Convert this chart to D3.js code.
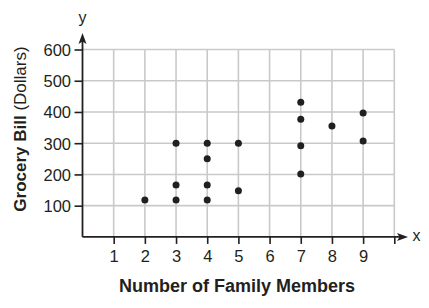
<!DOCTYPE html>
<html>
<head>
<meta charset="utf-8">
<script src="https://cdn.jsdelivr.net/npm/d3@7"></script>
<style>
  body { margin: 0; background: #fff; }
  text { font-family: "Liberation Sans", Arial, sans-serif; fill: #231f20; }
</style>
</head>
<body>
<div id="container"></div>
<script>
let members = [2, 3, 3, 3, 4, 4, 4, 4, 5, 5, 7, 7, 7, 7, 8, 9, 9];
let bills = [118, 300, 166, 118, 300, 250, 166, 118, 300, 148, 431, 377, 292, 201, 355, 397, 307];
let xTicks = [1, 2, 3, 4, 5, 6, 7, 8, 9];
let yTicks = [100, 200, 300, 400, 500, 600];

let width = 429;
let height = 308;
let ink = '#231f20';
let gridColor = '#c9c9c9';

let svg = d3.select('#container').append('svg')
    .attr('width', width).attr('height', height);

let xScale = d3.scaleLinear().domain([0, 10]).range([82.5, 394.3]);
let yScale = d3.scaleLinear().domain([0, 600]).range([236.9, 49.5]);

// grid
let grid = svg.append('g').attr('stroke', gridColor).attr('stroke-width', 1.6);
grid.selectAll('.vline').data(d3.range(1, 11)).enter()
    .append('line').attr('class', 'vline')
    .attr('x1', d => xScale(d)).attr('x2', d => xScale(d))
    .attr('y1', yScale(0)).attr('y2', yScale(600));
grid.selectAll('.hline').data(yTicks).enter()
    .append('line').attr('class', 'hline')
    .attr('x1', xScale(0)).attr('x2', xScale(10))
    .attr('y1', d => yScale(d)).attr('y2', d => yScale(d));

// x axis
let xAxis = d3.axisBottom(xScale).tickValues(d3.range(1, 11)).tickSize(7).tickSizeOuter(0)
    .tickFormat(d => d < 10 ? d : '');
let gx = svg.append('g').attr('transform', 'translate(0,' + yScale(0) + ')').call(xAxis);
gx.select('.domain').remove();
gx.selectAll('.tick line').attr('stroke', ink).attr('stroke-width', 1.6);
gx.selectAll('.tick text').attr('y', 25).attr('dy', 0)
    .style('font-size', '16.5px').style('fill', ink);

// y axis
let yAxis = d3.axisLeft(yScale).tickValues(yTicks).tickSize(8).tickSizeOuter(0);
let gy = svg.append('g').attr('transform', 'translate(' + xScale(0) + ',0)').call(yAxis);
gy.select('.domain').remove();
gy.selectAll('.tick line').attr('stroke', ink).attr('stroke-width', 1.6);
gy.selectAll('.tick text').attr('x', -11.5).attr('dy', '0.36em')
    .style('font-size', '16.5px').style('fill', ink);

// axis lines with arrows
let x0 = xScale(0), y0 = yScale(0);
svg.append('line').attr('x1', x0).attr('x2', 400).attr('y1', y0).attr('y2', y0)
    .attr('stroke', ink).attr('stroke-width', 1.8);
svg.append('line').attr('x1', x0).attr('x2', x0).attr('y1', y0).attr('y2', 41)
    .attr('stroke', ink).attr('stroke-width', 1.8);
svg.append('path')
    .attr('d', 'M408,' + y0 + ' L397,' + (y0 - 4) + ' L399.5,' + y0 + ' L397,' + (y0 + 4) + ' Z')
    .attr('fill', ink);
svg.append('path')
    .attr('d', 'M' + x0 + ',33 L' + (x0 - 4) + ',44 L' + x0 + ',41.5 L' + (x0 + 4) + ',44 Z')
    .attr('fill', ink);

svg.append('text').attr('x', x0).attr('y', 23).attr('text-anchor', 'middle')
    .style('font-size', '16px').text('y');
svg.append('text').attr('x', 412.5).attr('y', y0 + 4.5)
    .style('font-size', '16px').text('x');

// points
svg.selectAll('.dot').data(members).enter()
    .append('circle').attr('class', 'dot')
    .attr('cx', d => xScale(d))
    .attr('cy', (d, i) => yScale(bills[i]))
    .attr('r', 3.5)
    .attr('fill', ink);

// titles
svg.append('text').attr('x', 237).attr('y', 291.7).attr('text-anchor', 'middle')
    .style('font-size', '18px').style('font-weight', 'bold')
    .text('Number of Family Members');

let yTitle = svg.append('text').attr('text-anchor', 'middle')
    .attr('transform', 'translate(25.7,129) rotate(-90)')
    .style('font-size', '17px');
yTitle.append('tspan').style('font-weight', 'bold').text('Grocery Bill');
yTitle.append('tspan').text(' (Dollars)');
</script>
</body>
</html>
